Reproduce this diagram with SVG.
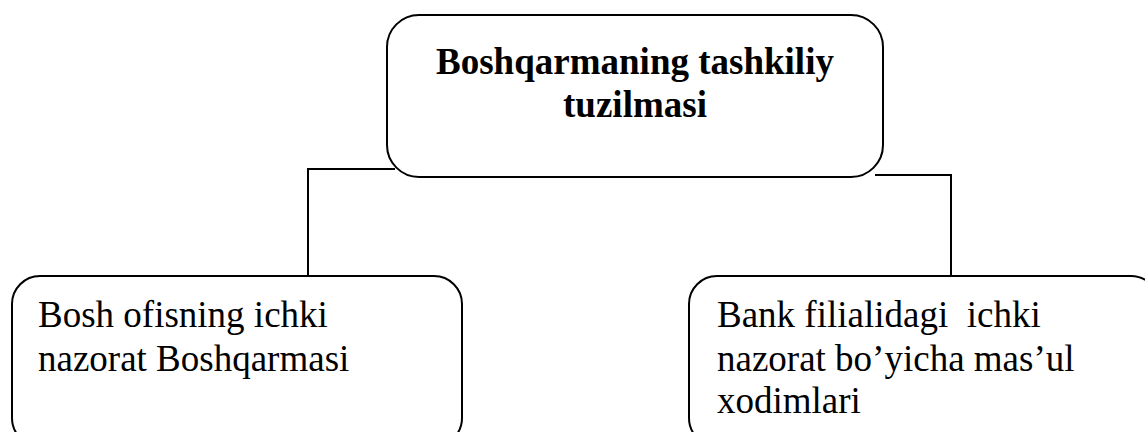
<svg xmlns="http://www.w3.org/2000/svg" width="1145" height="432" viewBox="0 0 1145 432">
<style>
.box{fill:#fff;stroke:#000;stroke-width:2}
.con{fill:none;stroke:#000;stroke-width:2}
.t{font-family:"Liberation Serif","Times New Roman",serif;font-size:37px;fill:#000;white-space:pre}
.b{font-weight:bold;text-anchor:middle}
</style>
<rect width="1145" height="432" fill="#fff"/>
<g id="connectors">
<polyline class="con" points="395,169 308,169 308,276"/>
<polyline class="con" points="875,175 951,175 951,276"/>
</g>
<g id="top">
<rect class="box" x="387" y="15" width="496" height="162" rx="32" ry="32"/>
<text class="t b" x="635" y="74">Boshqarmaning tashkiliy</text>
<text class="t b" x="635" y="117">tuzilmasi</text>
</g>
<g id="left">
<rect class="box" x="12" y="276" width="450" height="170" rx="28" ry="28"/>
<text class="t" x="38" y="327">Bosh ofisning ichki</text>
<text class="t" x="38" y="371">nazorat Boshqarmasi</text>
</g>
<g id="right">
<rect class="box" x="689" y="276" width="470" height="170" rx="28" ry="28"/>
<text class="t" x="717" y="327" xml:space="preserve">Bank filialidagi  ichki</text>
<text class="t" x="717" y="371">nazorat bo’yicha mas’ul</text>
<text class="t" x="717" y="413">xodimlari</text>
</g>
</svg>
